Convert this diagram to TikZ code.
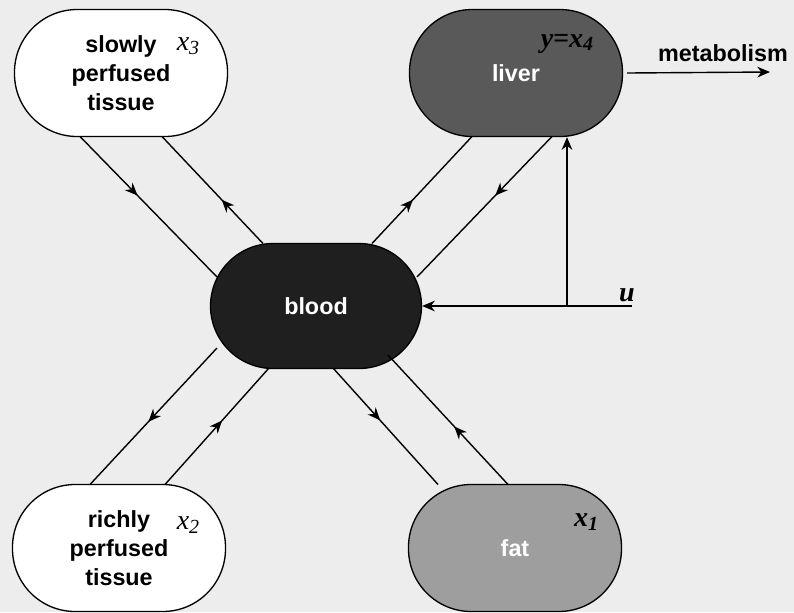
\documentclass[tikz,border=0pt]{standalone}
\usepackage{fontspec}
\setsansfont{Liberation Sans}
\newfontfamily\labserif{Liberation Serif}
\newcommand{\varlab}[2]{{\labserif\itshape #1\raisebox{-2.5pt}{\fontsize{15}{15}\selectfont #2}}}
\usetikzlibrary{arrows.meta,decorations.markings}
\begin{document}
\begin{tikzpicture}[x=0.75pt,y=-0.75pt,
  box/.style={rectangle, rounded corners=47pt, draw=black, line width=1pt,
    minimum width=159.75pt, minimum height=95.25pt, inner sep=0pt,
    font=\sffamily\bfseries\fontsize{17.5}{21.5}\selectfont, align=center},
  conn/.style={line width=1.05pt},
  midarrow/.style={postaction={decorate}, decoration={markings,
    mark=at position #1 with {\arrow{Stealth[length=9.5pt,width=8pt,inset=3pt]}}}},
  endtip/.style={-{Stealth[length=9.5pt,width=8pt,inset=3pt]}},
  lab/.style={font=\fontsize{21}{21}\selectfont, inner sep=0pt},
  blab/.style={font=\fontsize{21}{21}\selectfont\bfseries, inner sep=0pt},
  txt/.style={font=\sffamily\bfseries\fontsize{17.5}{21.5}\selectfont, inner sep=0pt}]
\fill[black!7] (0,0) rectangle (794,612);
\useasboundingbox (0,0) rectangle (794,612);

% compartments
\node[box, fill=white] (slow) at (121,73) {slowly\\perfused\\tissue};
\node[box, fill=black!65, text=white] (liver) at (516,73) {liver};
\node[box, fill=black!88, text=white, minimum width=158.25pt, minimum height=93.75pt] (blood) at (316,306) {blood};
\node[box, fill=white] (rich) at (119,548) {richly\\perfused\\tissue};
\node[box, fill=black!38, text=white] (fat) at (515,548) {fat};

% labels
\node[lab] (x3) at (188,46) {\varlab{x}{3}};
\node[blab] (y4) at (567,44) {\varlab{y=x}{4}};
\node[lab] (x2) at (188,525) {\varlab{x}{2}};
\node[blab] (x1) at (586,522) {\varlab{x}{1}};
\node[blab] (ul) at (627,297) {\varlab{u}{}};
\node[txt] (met) at (723,53) {metabolism};

% slowly perfused <-> blood
\draw[conn, midarrow=0.42] ([shift={(-41,63.5)}]slow.center) -- ([shift={(-99,-29)}]blood.center);
\draw[conn, midarrow=0.41] ([shift={(-53,-62.5)}]blood.center) -- ([shift={(41,63.5)}]slow.center);
% liver <-> blood
\draw[conn, midarrow=0.41] ([shift={(56,-62.5)}]blood.center) -- ([shift={(-44,63.5)}]liver.center);
\draw[conn, midarrow=0.42] ([shift={(36,63.5)}]liver.center) -- ([shift={(101,-29)}]blood.center);
% richly perfused <-> blood
\draw[conn, midarrow=0.54] ([shift={(-99,42)}]blood.center) -- ([shift={(-29,-63.5)}]rich.center);
\draw[conn, midarrow=0.55] ([shift={(46,-63.5)}]rich.center) -- ([shift={(-47,62)}]blood.center);
% fat <-> blood
\draw[conn, midarrow=0.45] ([shift={(17,62)}]blood.center) -- ([shift={(-77,-63.5)}]fat.center);
\draw[conn, midarrow=0.45] ([shift={(-7,-63.5)}]fat.center) -- ([shift={(72,49)}]blood.center);

% input u
\coordinate (uend) at (632,306);
\coordinate (junc) at (567,306);
\draw[conn, endtip] (uend) -- (blood.east);
\draw[conn, endtip] (junc) -- (junc |- liver.south);

% metabolism
\coordinate (metend) at (770,72);
\draw[conn, endtip] ([xshift=3pt]liver.east) -- (metend);
\end{tikzpicture}
\end{document}
